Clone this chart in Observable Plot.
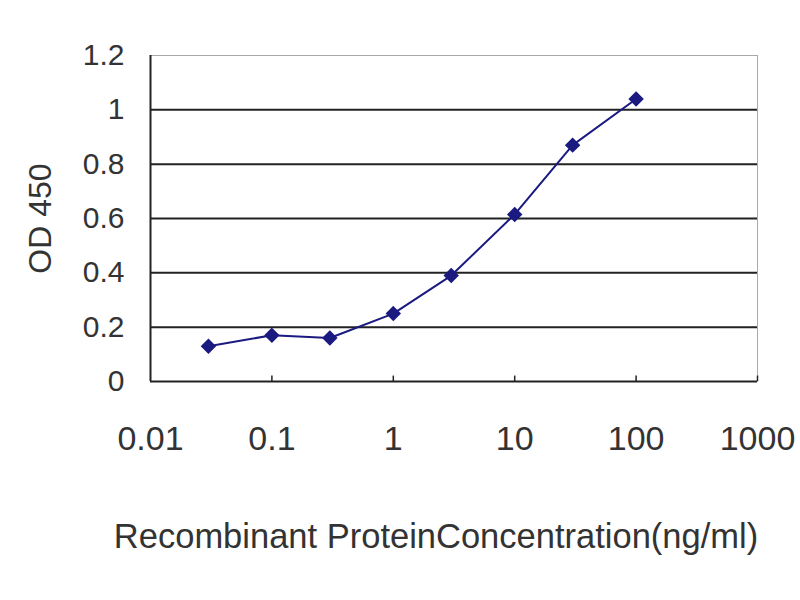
<!DOCTYPE html>
<html>
<head>
<meta charset="utf-8">
<script src="https://cdn.jsdelivr.net/npm/d3@7"></script>
<script src="https://cdn.jsdelivr.net/npm/@observablehq/plot@0.6"></script>
<style>
  body { margin: 0; background: #fff; }
</style>
</head>
<body>
<div id="chart-container"></div>
<script>
// concentration (ng/ml) and OD 450 readings
const concentration = [0.03, 0.1, 0.3, 1, 3, 10, 30, 100];
const od450 = [0.13, 0.17, 0.16, 0.25, 0.39, 0.615, 0.87, 1.04];
const xTicks = [0.01, 0.1, 1, 10, 100, 1000];
const yTicks = [0, 0.2, 0.4, 0.6, 0.8, 1, 1.2];
const gridValues = [0.2, 0.4, 0.6, 0.8, 1];
const xTitle = "Recombinant ProteinConcentration(ng/ml)";
const yTitle = "OD 450";

const dataset = concentration.map((c, i) => ({x: c, y: od450[i]}));
const navy = "#1a1a80";

const plot = Plot.plot({
  width: 800,
  height: 600,
  marginLeft: 150,
  marginRight: 43,
  marginTop: 55,
  marginBottom: 219,
  style: {fontFamily: "'Liberation Sans', Arial, sans-serif", fontSize: "32px", color: "#333"},
  x: {type: "log", domain: [0.01, 1000]},
  y: {domain: [0, 1.2]},
  marks: [
    Plot.frame({stroke: "#aaa"}),
    Plot.ruleY(gridValues, {stroke: "#222", strokeWidth: 2}),
    Plot.ruleY([0], {stroke: "#222", strokeWidth: 2}),
    Plot.ruleX([0.01], {stroke: "#222", strokeWidth: 2}),
    // small upward tick marks on the x axis
    Plot.ruleX(xTicks.slice(1), {y1: 0, y2: 0.02, stroke: "#222", strokeWidth: 1.5}),
    Plot.axisX({ticks: xTicks, tickFormat: d => String(d), tickSize: 0, tickPadding: 44, label: null, fill: "#333", fontSize: 34}),
    Plot.axisY({ticks: yTicks, tickFormat: d => String(d), tickSize: 0, tickPadding: 26, label: null, fill: "#333", fontSize: 30}),
    Plot.line(dataset, {x: "x", y: "y", stroke: navy, strokeWidth: 2}),
    Plot.dot(dataset, {x: "x", y: "y", symbol: "diamond2", r: 6, fill: navy, stroke: navy}),
    Plot.text([xTitle], {frameAnchor: "bottom", dx: -18, dy: 166, fill: "#333", fontSize: 34.5}),
    Plot.text([yTitle], {frameAnchor: "left", dx: -110, rotate: -90, textAnchor: "middle", fill: "#333", fontSize: 32})
  ]
});

document.getElementById('chart-container').appendChild(plot);
</script>
</body>
</html>
